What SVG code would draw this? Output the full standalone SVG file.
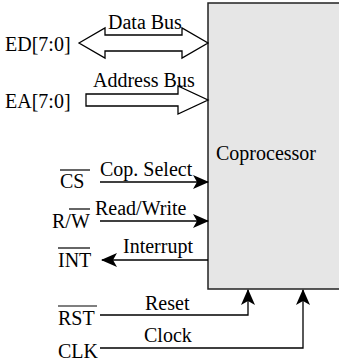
<svg xmlns="http://www.w3.org/2000/svg" width="339" height="362" viewBox="0 0 339 362">
  <style>
    text { font-family: "Liberation Serif", "DejaVu Serif", serif; font-size: 20px; fill: #000; }
    .wire { fill: none; stroke: #000; stroke-width: 1.3; }
    .bus { fill: #fff; stroke: #000; stroke-width: 1.3; stroke-linejoin: miter; }
    .bar { stroke: #000; stroke-width: 1.2; }
  </style>
  <defs>
    <marker id="head" viewBox="0 0 16 16" refX="15" refY="8" markerWidth="16" markerHeight="16" markerUnits="userSpaceOnUse" orient="auto">
      <path d="M0,1 L16,8 L0,15 L4,8 Z" fill="#000"/>
    </marker>
  </defs>

  <g id="coprocessor">
    <rect x="208" y="3" width="140" height="286" fill="#e6e6e6" stroke="#222" stroke-width="1.5"/>
    <text x="216" y="160" font-size="23">Coprocessor</text>
  </g>

  <g id="connectors">
    <!-- data bus, bidirectional -->
    <path class="bus" d="M79,43 L105,28 L105,35 L182,35 L182,28 L208,43 L182,58 L182,51 L105,51 L105,58 Z"/>
    <!-- address bus, into the coprocessor -->
    <path class="bus" d="M86,94 L178,94 L178,86 L208,100 L178,114 L178,106 L86,106 Z"/>
    <!-- control signals -->
    <line class="wire" x1="100" y1="182" x2="208" y2="182" marker-end="url(#head)"/>
    <line class="wire" x1="100" y1="221" x2="208" y2="221" marker-end="url(#head)"/>
    <line class="wire" x1="208" y1="260" x2="102" y2="260" marker-end="url(#head)"/>
    <polyline class="wire" points="100,315 248,315 248,290" marker-end="url(#head)"/>
    <polyline class="wire" points="100,348 303,348 303,290" marker-end="url(#head)"/>
  </g>

  <g id="data-bus">
    <text x="5" y="51">ED[7:0]</text>
    <text x="108" y="29">Data Bus</text>
  </g>
  <g id="address-bus">
    <text x="5" y="108">EA[7:0]</text>
    <text x="93" y="87">Address Bus</text>
  </g>
  <g id="chip-select">
    <text x="60" y="188">CS</text>
    <line class="bar" x1="60" y1="170" x2="90" y2="170"/>
    <text x="100" y="176">Cop. Select</text>
  </g>
  <g id="read-write">
    <text x="52" y="228">R/W</text>
    <line class="bar" x1="69" y1="209" x2="90" y2="209"/>
    <text x="95" y="215">Read/Write</text>
  </g>
  <g id="interrupt">
    <text x="58" y="267">INT</text>
    <line class="bar" x1="58" y1="248" x2="90" y2="248"/>
    <text x="123" y="253">Interrupt</text>
  </g>
  <g id="reset">
    <text x="58" y="325">RST</text>
    <line class="bar" x1="58" y1="306" x2="97" y2="306"/>
    <text x="145" y="310">Reset</text>
  </g>
  <g id="clock">
    <text x="58" y="358">CLK</text>
    <text x="144" y="342">Clock</text>
  </g>
</svg>
